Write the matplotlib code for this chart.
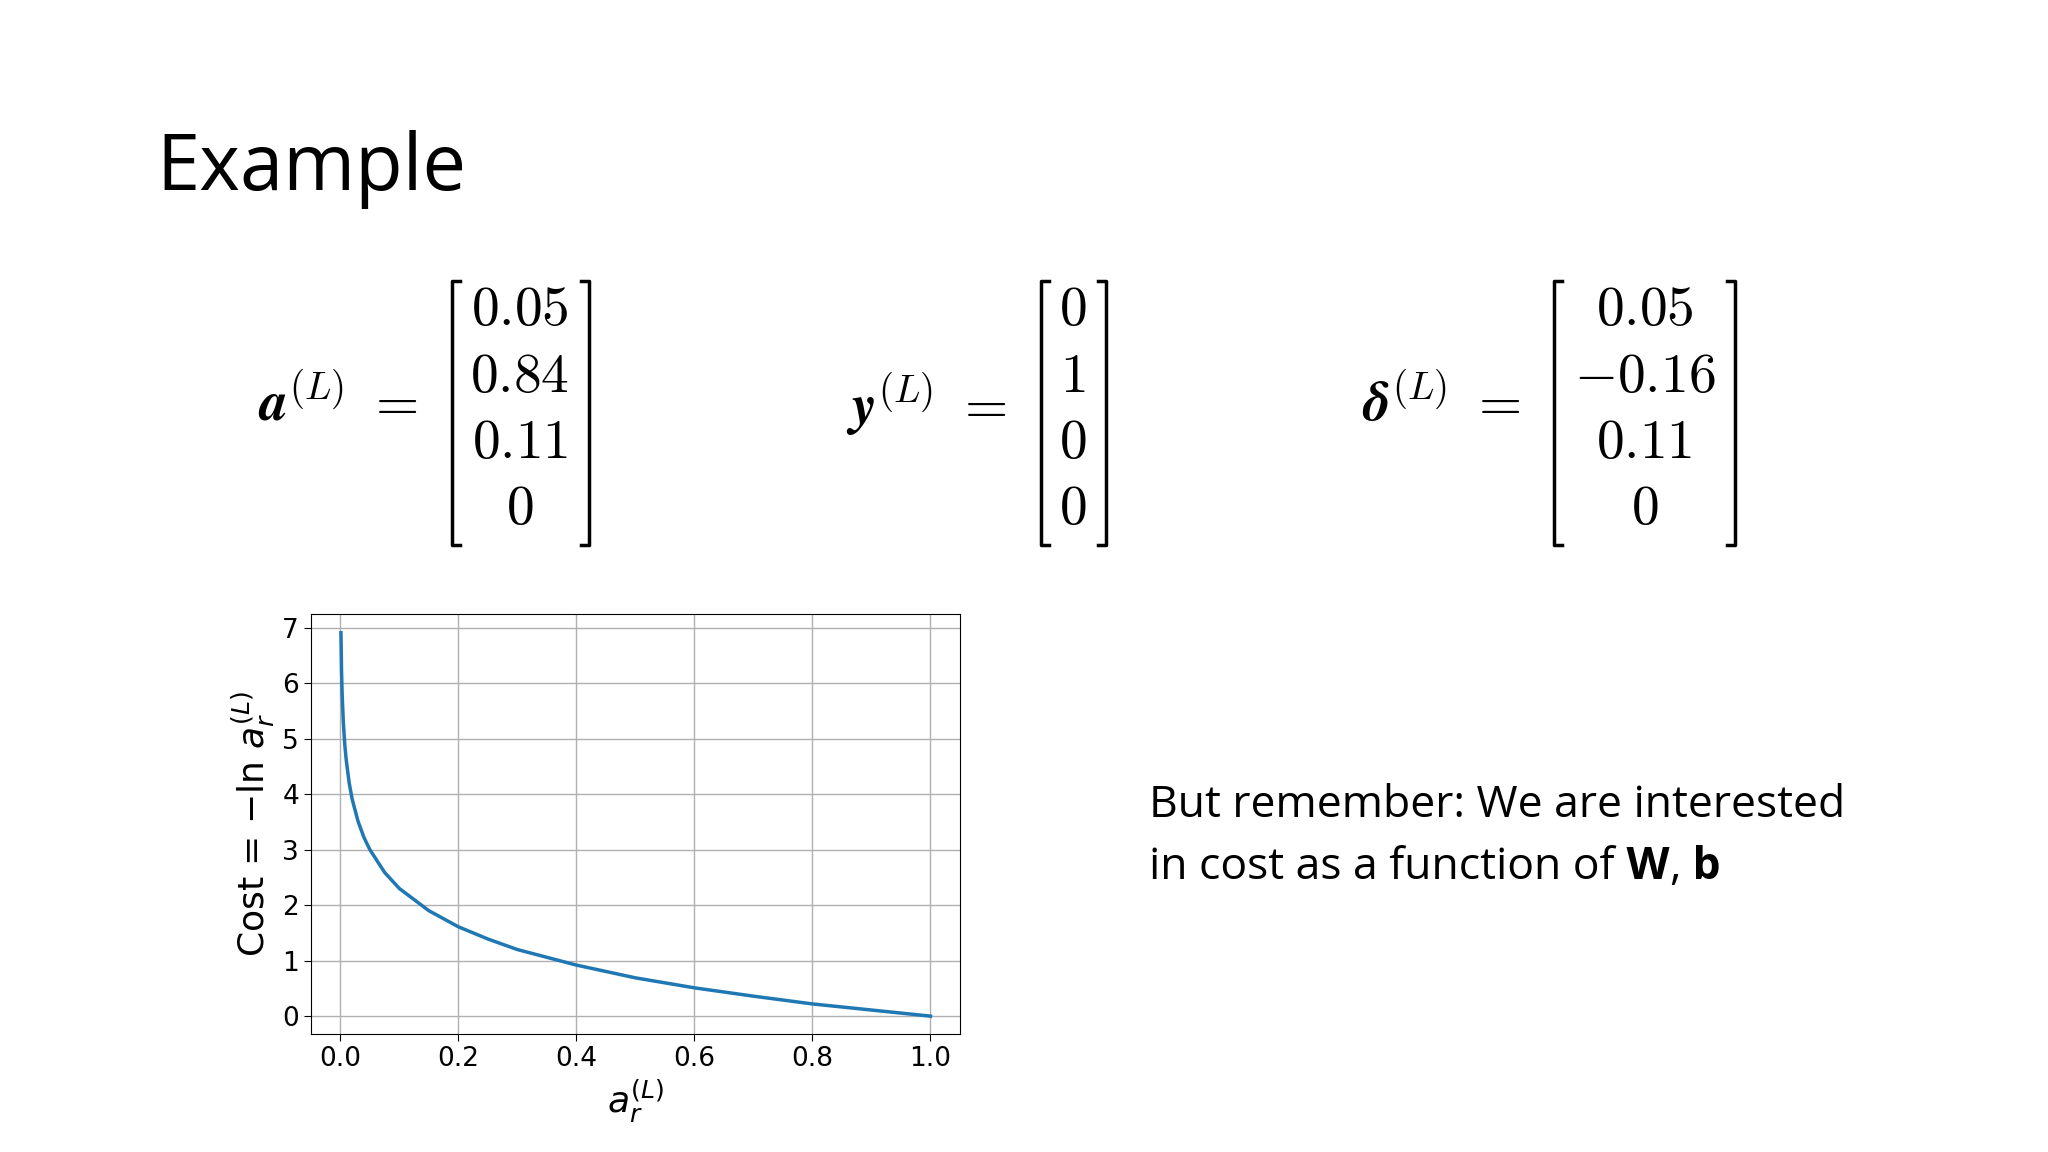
import matplotlib
matplotlib.use("Agg")
import matplotlib.pyplot as plt
from matplotlib.lines import Line2D

x_vals = [0.001, 0.002, 0.003, 0.005, 0.0075, 0.01, 0.015, 0.02, 0.03, 0.04, 0.05, 0.075, 0.1, 0.15, 0.2, 0.25, 0.3, 0.4, 0.5, 0.6, 0.7, 0.8, 0.9, 1.0]
cost_vals = [6.91, 6.21, 5.81, 5.30, 4.89, 4.61, 4.20, 3.91, 3.51, 3.22, 3.00, 2.59, 2.30, 1.90, 1.61, 1.39, 1.20, 0.92, 0.69, 0.51, 0.36, 0.22, 0.11, 0.0]
xticks = [0.0, 0.2, 0.4, 0.6, 0.8, 1.0]
yticks = [0, 1, 2, 3, 4, 5, 6, 7]
a_vec = ["0.05", "0.84", "0.11", "0"]
y_vec = ["0", "1", "0", "0"]
d_vec = ["0.05", "-0.16", "0.11", "0"]

W, H = 1568, 882
fig = plt.figure(figsize=(20.48, 11.52), dpi=100)
fx = lambda px: px / W
fy = lambda py: 1 - py / H

fig.text(fx(120), fy(130), "Example", fontsize=56, family="Open Sans", va="center", ha="left")

def matrix(label, lx, entries, cx, bl, br):
    fig.text(fx(lx), fy(310), label, fontsize=40, math_fontfamily="cm", ha="right", va="center")
    rows = [237, 289, 339, 390]
    for e, r in zip(entries, rows):
        fig.text(fx(cx), fy(r), "$" + e + "$", fontsize=40, math_fontfamily="cm", ha="center", va="center")
    for bx, s in ((bl, 1), (br, -1)):
        xs = [fx(bx + 6 * s), fx(bx), fx(bx), fx(bx + 6 * s)]
        ys = [fy(215), fy(215), fy(417), fy(417)]
        fig.add_artist(Line2D(xs, ys, color="black", lw=2.5, transform=fig.transFigure))

matrix(r"$\boldsymbol{a}^{(L)}\ =$", 320, a_vec, 398, 346, 451)
matrix(r"$\boldsymbol{y}^{(L)}\ =$", 771, y_vec, 821, 797, 847)
matrix(r"$\boldsymbol{\delta}^{(L)}\ =$", 1164, d_vec, 1259, 1190, 1328)

ax = fig.add_axes([fx(238), fy(792), fx(735) - fx(238), fy(470) - fy(792)])
ax.plot(x_vals, cost_vals, color="#1f77b4", lw=2.5)
ax.set_xlim(-0.05, 1.05)
ax.set_ylim(-0.33, 7.25)
ax.set_xticks(xticks)
ax.set_yticks(yticks)
ax.set_xticklabels([f"{v:.1f}" for v in xticks])
ax.grid(True, color="#b0b0b0", lw=1)
ax.tick_params(labelsize=19, length=5)
ax.set_ylabel(r"Cost = $-\ln\, a_r^{(L)}$", fontsize=26)
ax.set_xlabel(r"$a_r^{(L)}$", fontsize=26)

fs = 32
fig.text(fx(880), fy(617), "But remember: We are interested", fontsize=fs, family="Open Sans", va="center")
t1 = fig.text(fx(880), fy(664), "in cost as a function of", fontsize=fs, family="Open Sans", va="center")
t2 = ax.annotate(" W", xy=(1, 0), xycoords=t1, va="bottom", fontsize=fs, family="Open Sans", weight="bold", annotation_clip=False)
t3 = ax.annotate(",", xy=(1, 0), xycoords=t2, va="bottom", fontsize=fs, family="Open Sans", annotation_clip=False)
ax.annotate(" b", xy=(1, 0), xycoords=t3, va="bottom", fontsize=fs, family="Open Sans", weight="bold", annotation_clip=False)

fig.savefig("out.png", dpi=100)
